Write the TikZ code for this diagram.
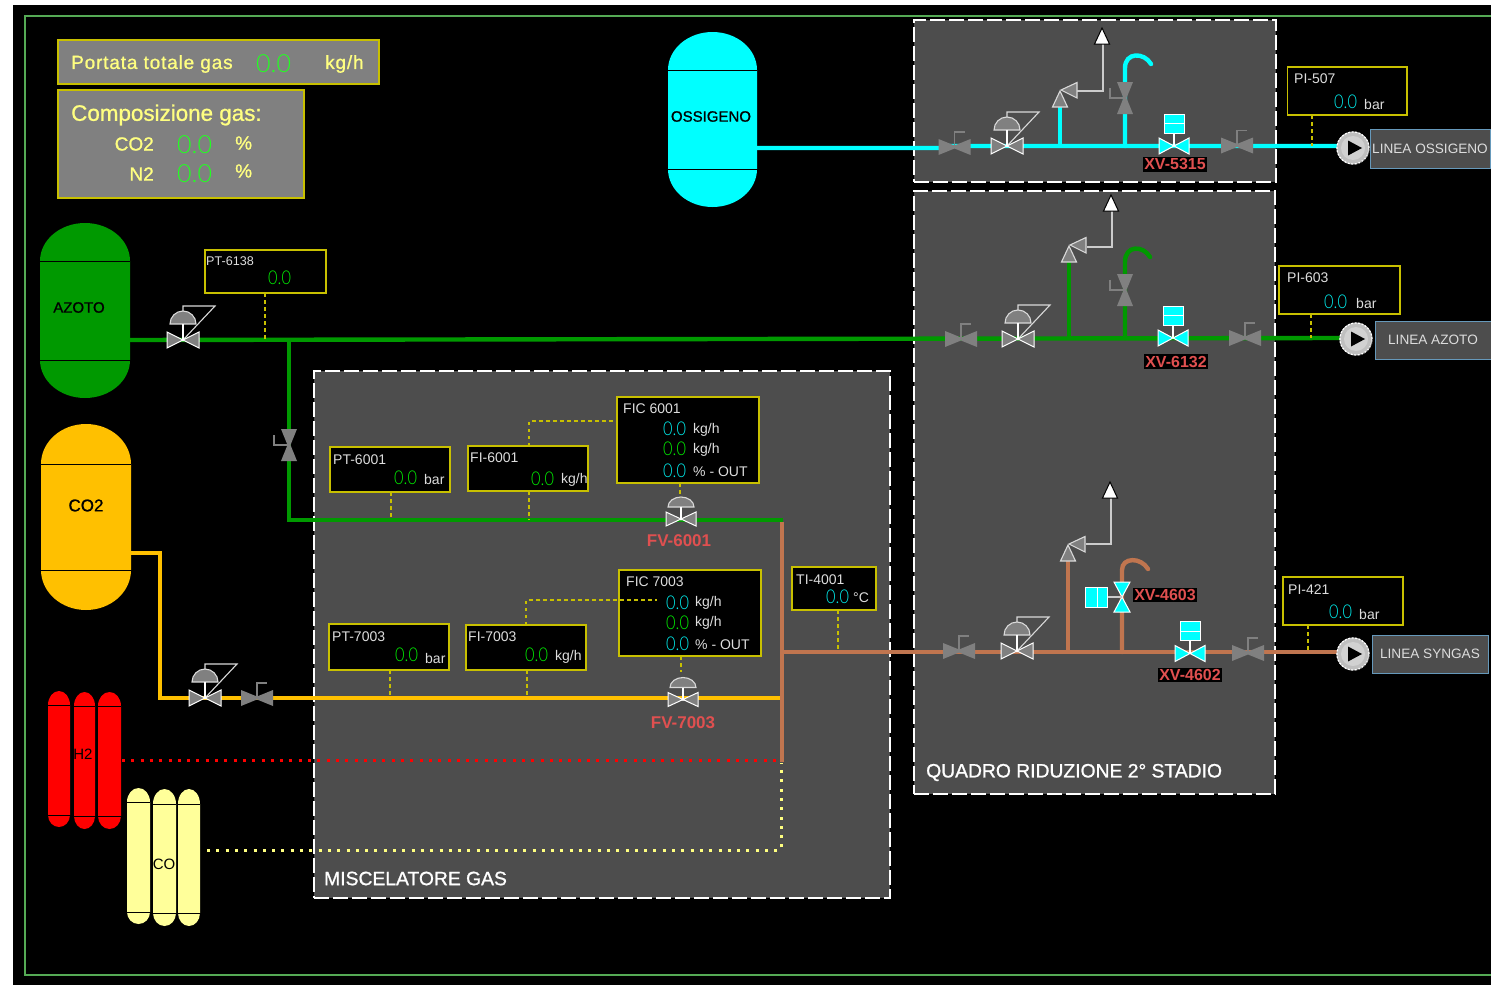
\documentclass[tikz,border=0pt]{standalone}
\usepackage{fontspec}
\setmainfont{Liberation Sans}
\newfontfamily\thinf[UprightFont=* Light]{Lato}
\newfontfamily\thinn[UprightFont=* Light,FakeStretch=0.86]{Lato}
\newfontfamily\semib[FakeBold=1]{Liberation Sans}
\newfontfamily\semis[FakeBold=1,LetterSpace=4.4]{Liberation Sans}
\definecolor{panelg}{HTML}{4D4D4D}
\definecolor{boxg}{HTML}{808080}
\definecolor{ybord}{HTML}{C8C000}
\definecolor{lemon}{HTML}{FFFF80}
\definecolor{vgrey}{HTML}{808080}
\definecolor{pcy}{HTML}{00FFFF}
\definecolor{pgr}{HTML}{009900}
\definecolor{pye}{HTML}{FFC000}
\definecolor{pbr}{HTML}{C0754F}
\definecolor{tagred}{HTML}{E05050}
\definecolor{frameg}{HTML}{55AA55}
\definecolor{vcy}{HTML}{00F0F0}
\definecolor{vgn}{HTML}{00F000}
\definecolor{brightg}{HTML}{22FF22}
\definecolor{sigy}{HTML}{C8C000}
\definecolor{ltxt}{HTML}{DDDDDD}
\definecolor{lineb}{HTML}{6699BB}
\newcommand{\fs}[1]{\fontsize{#1}{#1}\selectfont}
\newcommand{\pvtank}[7]{%
 \pgfmathsetmacro\rx{(#2-#1)/2}\pgfmathsetmacro\rt{#4-#3}\pgfmathsetmacro\rb{#6-#5}%
 \fill[#7] (#1,#4) arc[start angle=180,end angle=0,x radius=\rx pt,y radius=\rt pt] -- (#2,#5) arc[start angle=0,end angle=-180,x radius=\rx pt,y radius=\rb pt] -- cycle;
 \draw[black,line width=1pt] (#1,#4) -- (#2,#4) (#1,#5) -- (#2,#5);}
\newcommand{\ibox}[6][ibox]{%
 \pgfmathsetmacro\bw{#5-#3}\pgfmathsetmacro\bh{#6-#4}%
 \node[#1,minimum width=\bw pt,minimum height=\bh pt] (#2) at ({(#3+#5)/2},{(#4+#6)/2}) {};}
\tikzset{
 x=1pt,y=-1pt,
 ibox/.style={draw=ybord,fill=black,line width=1.1pt,inner sep=0pt,outer sep=0pt},
 gbox/.style={draw=ybord,fill=boxg,line width=1.5pt,inner sep=0pt,outer sep=0pt},
 lbox/.style={draw=lineb,fill=panelg,line width=1pt,inner sep=0pt,outer sep=0pt,text=ltxt,font=\fs{13.6}},
 panel/.style={draw=white,fill=panelg,line width=1.4pt,inner sep=0pt,outer sep=0pt,dash pattern=on 15pt off 4pt},
 pipe/.style={line width=4.4pt,line join=miter},
 hook/.style={line width=4.4pt,line cap=round},
 sig/.style={draw=sigy,line width=1.2pt,dash pattern=on 3.5pt off 3.5pt},
 dots/.style={line width=3pt,dash pattern=on 3pt off 6.3pt},
 ttl/.style={anchor=west,inner sep=0pt,yshift=-1pt,text=ltxt,font=\fs{14}},
 unit/.style={anchor=west,inner sep=0pt,yshift=-1pt,text=ltxt,font=\fs{14}},
 valc/.style={anchor=west,inner sep=0pt,yshift=-1pt,text=vcy,font=\thinn\fs{19}},
 valg/.style={anchor=west,inner sep=0pt,yshift=-1pt,text=vgn,font=\thinn\fs{19}},
 big/.style={anchor=west,inner sep=0pt,text=brightg,font=\thinf\fs{25}},
 lem/.style={anchor=west,inner sep=0pt,yshift=-1pt,text=lemon,font=\semib\fs{19}},
 hdr/.style={anchor=west,inner sep=0pt,yshift=-1pt,text=lemon,font=\semis\fs{19}},
 tag/.style={inner sep=1.5pt,fill=black,text=tagred,font=\bfseries\fs{16}},
 tagn/.style={inner sep=0pt,yshift=-.5pt,text=tagred,font=\bfseries\fs{17}},
 tanklab/.style={inner sep=0pt,yshift=-.5pt,text=black,font=\semib\fs{15}},
 paneltxt/.style={anchor=west,inner sep=0pt,yshift=-1.5pt,text=white,font=\semib\fs{19.3}},
 handv/.pic={\fill[vgrey] (-16,-8)--(0,-1.5)--(16,-8)--(16,8)--(0,1.5)--(-16,8)--cycle;
   \draw[vgrey,line width=1.2pt] (0,0)--(0,-15)--(10,-15);},
 ctrlv/.pic={\draw[white!85!black,line width=1.1pt] (0,-16)--(0,-34)--(32,-34)--(0,0);
   \filldraw[fill=boxg,draw=white!85!black,line width=1.1pt] (-13,-16) arc[start angle=180,end angle=0,x radius=13pt,y radius=13pt] -- cycle;
   \filldraw[fill=vgrey,draw=white,line width=1pt] (-16,-8)--(0,0)--(-16,8)--cycle (16,-8)--(0,0)--(16,8)--cycle;
   \draw[white,line width=1.1pt] (0,-16)--(0,0);
   \fill[white] (0,0) circle (1.6pt);},
 fvv/.pic={\filldraw[fill=boxg,draw=white!85!black,line width=1.1pt] (-13,-12) arc[start angle=180,end angle=0,x radius=13pt,y radius=10pt] -- cycle;
   \filldraw[fill=vgrey,draw=white,line width=1pt] (-15,-7)--(0,0)--(-15,7)--cycle (15,-7)--(0,0)--(15,7)--cycle;
   \draw[white,line width=1.1pt] (0,-12)--(0,0);
   \fill[white] (0,0) circle (1.6pt);},
 xvh/.pic={\filldraw[fill=pcy,draw=white,line width=1pt] (-15,-8)--(0,0)--(-15,8)--cycle (15,-8)--(0,0)--(15,8)--cycle;
   \draw[white,line width=1.1pt] (0,-13)--(0,0);
   \filldraw[fill=pcy,draw=white,line width=.8pt] (-10,-32) rectangle (10,-13);
   \draw[white,line width=1pt] (-10,-22.5)--(10,-22.5);},
 xvv/.pic={\filldraw[fill=pcy,draw=white,line width=1pt] (-8,-15)--(0,0)--(8,-15)--cycle (-8,15)--(0,0)--(8,15)--cycle;
   \draw[white!80!black,line width=1.1pt] (-15,0)--(0,0);
   \filldraw[fill=pcy,draw=white,line width=.8pt] (-37,-10) rectangle (-15,10);
   \draw[white,line width=1pt] (-25,-10)--(-25,10);},
 vent/.pic={%% origin: apex of both grey triangles
   \filldraw[fill=vgrey,draw=white!85!black,line width=1.1pt] (0,0)--(-7.5,16)--(7.5,16)--cycle;
   \filldraw[fill=vgrey,draw=white!85!black,line width=1.1pt] (1,-1)--(17,-8.5)--(17,7)--cycle;},
 ventend/.pic={\filldraw[fill=white,draw=black,line width=1pt] (0,-15)--(-7.5,1)--(7.5,1)--cycle;},
 pumpc/.pic={\fill[white!75!black] (0,0) circle (16.5pt);
   \fill[white!82!black] (0,0) circle (12pt);
   \draw[white,line width=1.2pt,dash pattern=on 2pt off 1.5pt] (0,0) circle (16pt);
   \draw[black!70,line width=.7pt,dash pattern=on 2pt off 2pt] (16.5,0) arc[start angle=0,end angle=-100,radius=16.5pt];
   \fill[black] (-5,-7.5)--(9,0)--(-5,7.5)--cycle;},
}
\begin{document}
\begin{tikzpicture}
\useasboundingbox (0,0) rectangle (1491,985);
\fill[white] (0,0) rectangle (1491,985);
\fill[black] (13,5) rectangle (1491,985);
\draw[frameg,line width=1.1pt] (1491,16) -- (25,16) -- (25,975) -- (1491,975);
% panels
\ibox[panel]{pnlMix}{314}{371}{890}{898}
\ibox[panel]{pnlO}{914}{20}{1276}{182}
\ibox[panel]{pnlR}{914}{191}{1275}{794}
% header boxes
\ibox[gbox]{hdrA}{58}{40}{379}{84}
\ibox[gbox]{hdrB}{58}{90}{304}{198}
\node[hdr] (tPort) at (71,63) {Portata totale gas};
\node[big] (vPort) at (256,64) {0.0};
\node[hdr] (uPort) at (325,63) {kg/h};
\node[lem,font=\semib\fs{22.4}] (tComp) at (71,114) {Composizione gas:};
\node[lem,anchor=east] (tC) at (154,143) {CO2};
\node[big] (vC) at (177,145) {0.0};
\node[lem] (uC) at (235,142) {\%};
\node[lem,anchor=east] (tN) at (154,173) {N2};
\node[big] (vN) at (177,174) {0.0};
\node[lem] (uN) at (235,170) {\%};
% tanks
\pvtank{668}{757}{32}{70}{169}{207}{pcy}
\pvtank{40}{130}{223}{261}{360}{398}{pgr}
\pvtank{41}{131}{424}{464}{570}{610}{pye}
\pvtank{48}{70}{691}{705}{815}{827}{red}
\pvtank{74}{95}{692}{706}{816}{829}{red}
\pvtank{98}{121}{692}{706}{816}{829}{red}
\pvtank{127}{150}{788}{802}{912}{924}{lemon!80!white}
\pvtank{153}{176}{789}{804}{913}{926}{lemon!80!white}
\pvtank{178}{200}{789}{804}{913}{926}{lemon!80!white}
\node[tanklab] (lOss) at (711,116) {OSSIGENO};
\node[tanklab,font=\semib\fs{15}] (lAz) at (79,307) {AZOTO};
\node[tanklab,font=\semib\fs{17}] (lCo2) at (86,505) {CO2};
\node[tanklab,font=\fs{15}] (lH2) at (83,754) {H2};
\node[tanklab,font=\fs{15}] (lCO) at (164,864) {CO};
% pipe junctions
\coordinate (oA) at (757,148); \coordinate (oB) at (940,148); \coordinate (oC) at (942,146); \coordinate (oD) at (1340,146);
\coordinate (oV) at (1060,146); \coordinate (oVt) at (1060,107);
\coordinate (oH) at (1125,146); \coordinate (oHt) at (1125,68); \coordinate (oHe) at (1151,64);
\coordinate (gA) at (130,340); \coordinate (gB) at (1340,338);
\coordinate (gJ) at (289,340); \coordinate (gK) at (289,520); \coordinate (gL) at (783,520);
\coordinate (gV) at (1069,338); \coordinate (gVt) at (1069,262);
\coordinate (gH) at (1125,338); \coordinate (gHt) at (1125,262); \coordinate (gHe) at (1150,257);
\coordinate (yA) at (131,553); \coordinate (yB) at (160,553); \coordinate (yC) at (160,698); \coordinate (yD) at (780,698);
\coordinate (bA) at (782,522); \coordinate (bB) at (782,762); \coordinate (bC) at (782,652); \coordinate (bD) at (1340,652);
\coordinate (bV) at (1068,652); \coordinate (bVt) at (1068,561);
\coordinate (bH) at (1122,652); \coordinate (bHt) at (1122,570); \coordinate (bHe) at (1148,569);
\coordinate (rA) at (122,760); \coordinate (rB) at (782,760);
\coordinate (cA) at (207,850); \coordinate (cB) at (781,850); \coordinate (cC) at (781,763);
% dotted lines
\draw[red,dots] (rA) -- (rB);
\draw[lemon,dots] (cA) -- (cB) -- (cC);
% pipes
\draw[pipe,pcy] (oA) -- (oB) -- (oC) -- (oD);
\draw[pipe,pcy] (oV) -- (oVt);
\draw[hook,pcy] (oH) -- (oHt) .. controls (1125,52) and (1144,52) .. (oHe);
\draw[pipe,pgr] (gA) -- (gB);
\draw[pipe,pgr] (gJ) -- (gK) -- (gL);
\draw[pipe,pgr] (gV) -- (gVt);
\draw[hook,pgr] (gH) -- (gHt) .. controls (1125,245) and (1143,245) .. (gHe);
\draw[pipe,pye] (yA) -- (yB) -- (yC) -- (yD);
\draw[pipe,pbr] (bA) -- (bB);
\draw[pipe,pbr] (bC) -- (bD);
\draw[pipe,pbr] (bV) -- (bVt);
\draw[hook,pbr] (bH) -- (bHt) .. controls (1122,557) and (1141,557) .. (bHe);
% vent tubing
\coordinate (oTa) at (1077,91); \coordinate (oTb) at (1103,91); \coordinate (oTc) at (1103,43);
\coordinate (gTa) at (1087,247); \coordinate (gTb) at (1112,247); \coordinate (gTc) at (1112,210);
\coordinate (bTa) at (1086,544); \coordinate (bTb) at (1111,544); \coordinate (bTc) at (1111,497);
\draw[white!80!black,line width=1.2pt] (oTa) -- (oTb) -- (oTc);
\draw[white!80!black,line width=1.2pt] (gTa) -- (gTb) -- (gTc);
\draw[white!80!black,line width=1.2pt] (bTa) -- (bTb) -- (bTc);
\pic (vo) at (1060,91) {vent}; \pic (ve1) at (1102,43) {ventend};
\pic (vg) at (1069,246) {vent}; \pic (ve2) at (1111,210) {ventend};
\pic (vb) at (1068,545) {vent}; \pic (ve3) at (1110,497) {ventend};
% valves
\pic (h1) at (954.5,147) {handv};
\pic (c1) at (1007,146) {ctrlv};
\pic[rotate=90] (h2) at (1125,98) {handv};
\pic (x1) at (1174,146) {xvh};
\pic (h3) at (1237,145.5) {handv};
\pic (c2) at (183,340) {ctrlv};
\pic[rotate=90] (h4) at (289,445) {handv};
\pic (h5) at (961,339) {handv};
\pic (c3) at (1018,339) {ctrlv};
\pic[rotate=90] (h6) at (1125,290) {handv};
\pic (x2) at (1173,338) {xvh};
\pic (h7) at (1245,338) {handv};
\pic (c4) at (205,698) {ctrlv};
\pic (h8) at (257,698) {handv};
\pic (fv1) at (681,519) {fvv};
\pic (fv2) at (683,699.5) {fvv};
\pic (h9) at (959,651) {handv};
\pic (c5) at (1017,651) {ctrlv};
\pic (xv3) at (1122,597) {xvv};
\pic (x4) at (1190,653.5) {xvh};
\pic (h10) at (1248,653) {handv};
\pic (p1) at (1353,148) {pumpc};
\pic (p2) at (1356,339) {pumpc};
\pic (p3) at (1353,654) {pumpc};
% line boxes
\node[lbox,minimum width=120pt,minimum height=39pt] (lnO) at (1430,149) {\raisebox{-1pt}{LINEA OSSIGENO}};
\node[lbox,minimum width=116pt,minimum height=38pt] (lnA) at (1433,340) {\raisebox{-1pt}{LINEA AZOTO}};
\node[lbox,minimum width=116pt,minimum height=38pt] (lnS) at (1430,654) {\raisebox{-1pt}{LINEA SYNGAS}};
% instruments
\ibox{ptA}{205}{250}{326}{293}
\ibox{piO}{1287.5}{67}{1407}{115}
\ibox{piG}{1279}{266}{1400}{314}
\ibox{piS}{1283}{577}{1403}{625}
\ibox{ficA}{617}{397}{759}{483}
\ibox{ficB}{619}{570}{761}{656}
\ibox{tiA}{792}{567}{876}{610}
\ibox{ptB}{330}{447}{450}{492}
\ibox{fiB}{468}{446}{588}{491}
\ibox{ptC}{329}{624}{449}{670}
\ibox{fiC}{466}{625}{586}{670}
% signal lines
\coordinate (s1) at (265,340); \draw[sig] (s1 |- ptA.south) -- (s1);
\coordinate (s2) at (1312,146); \draw[sig] (s2 |- piO.south) -- (s2);
\coordinate (s3) at (1311,338); \draw[sig] (s3 |- piG.south) -- (s3);
\coordinate (s4) at (1308,652); \draw[sig] (s4 |- piS.south) -- (s4);
\coordinate (s5) at (391,520); \draw[sig] (s5 |- ptB.south) -- (s5);
\coordinate (s6) at (529,520); \draw[sig] (s6 |- fiB.south) -- (s6);
\coordinate (s7) at (529,421); \draw[sig] (s6 |- fiB.north) -- (s7) -- (s7 -| ficA.west);
\coordinate (s8) at (680,497); \draw[sig] (s8 |- ficA.south) -- (s8);
\coordinate (s9) at (390,698); \draw[sig] (s9 |- ptC.south) -- (s9);
\coordinate (s10) at (527,698); \draw[sig] (s10 |- fiC.south) -- (s10);
\coordinate (s11) at (526,600); \coordinate (s12) at (657,600); \draw[sig] (s11 |- fiC.north) -- (s11) -- (s12);
\coordinate (s13) at (681,672); \draw[sig] (s13 |- ficB.south) -- (s13);
\coordinate (s14) at (838,652); \draw[sig] (s14 |- tiA.south) -- (s14);
% instrument texts
\node[ttl,font=\fs{12.6}] (a1) at (206,260) {PT-6138}; \node[valg] (a2) at (268,277) {0.0};
\node[ttl] (a3) at (1294,78) {PI-507}; \node[valc] (a4) at (1334,101) {0.0}; \node[unit] (a5) at (1364,103) {bar};
\node[ttl] (a6) at (1287,277) {PI-603}; \node[valc] (a7) at (1324,301) {0.0}; \node[unit] (a8) at (1356,302) {bar};
\node[ttl] (a9) at (1288,589) {PI-421}; \node[valc] (a10) at (1329,611) {0.0}; \node[unit] (a11) at (1359,613) {bar};
\node[ttl] (b1) at (623,408) {FIC 6001};
\node[valc] (b2) at (663,428) {0.0}; \node[unit] (b3) at (693,429) {kg/h};
\node[valg] (b4) at (663,448) {0.0}; \node[unit] (b5) at (693,449) {kg/h};
\node[valc] (b6) at (663,470) {0.0}; \node[unit] (b7) at (693,471) {\% - OUT};
\node[ttl] (c1t) at (626,581) {FIC 7003};
\node[valc] (c2t) at (666,602) {0.0}; \node[unit] (c3t) at (695,602) {kg/h};
\node[valg] (c4t) at (666,622) {0.0}; \node[unit] (c5t) at (695,622) {kg/h};
\node[valc] (c6t) at (666,643) {0.0}; \node[unit] (c7t) at (695,644) {\% - OUT};
\node[ttl] (d1) at (796,579) {TI-4001}; \node[valc] (d2) at (826,596) {0.0}; \node[unit] (d3) at (853,597) {°C};
\node[ttl] (e1) at (333,459) {PT-6001}; \node[valg] (e2) at (394,477) {0.0}; \node[unit] (e3) at (424,478) {bar};
\node[ttl] (f1) at (470,457) {FI-6001}; \node[valg] (f2) at (531,478) {0.0}; \node[unit] (f3) at (561,479) {kg/h};
\node[ttl] (g1) at (332,636) {PT-7003}; \node[valg] (g2) at (395,654) {0.0}; \node[unit] (g3) at (425,657) {bar};
\node[ttl] (h1t) at (468,636) {FI-7003}; \node[valg] (h2t) at (525,654) {0.0}; \node[unit] (h3t) at (555,656) {kg/h};
% tags
\node[tag] (t1) at (1175,164.5) {XV-5315};
\node[tag] (t2) at (1176,361.5) {XV-6132};
\node[tag] (t3) at (1165,595) {XV-4603};
\node[tag] (t4) at (1190,675) {XV-4602};
\node[tagn] (t5) at (679,540) {FV-6001};
\node[tagn] (t6) at (683,722) {FV-7003};
\node[paneltxt] (m1) at (324,877) {MISCELATORE GAS};
\node[paneltxt] (m2) at (926,771) {QUADRO RIDUZIONE 2° STADIO};
\end{tikzpicture}
\end{document}
